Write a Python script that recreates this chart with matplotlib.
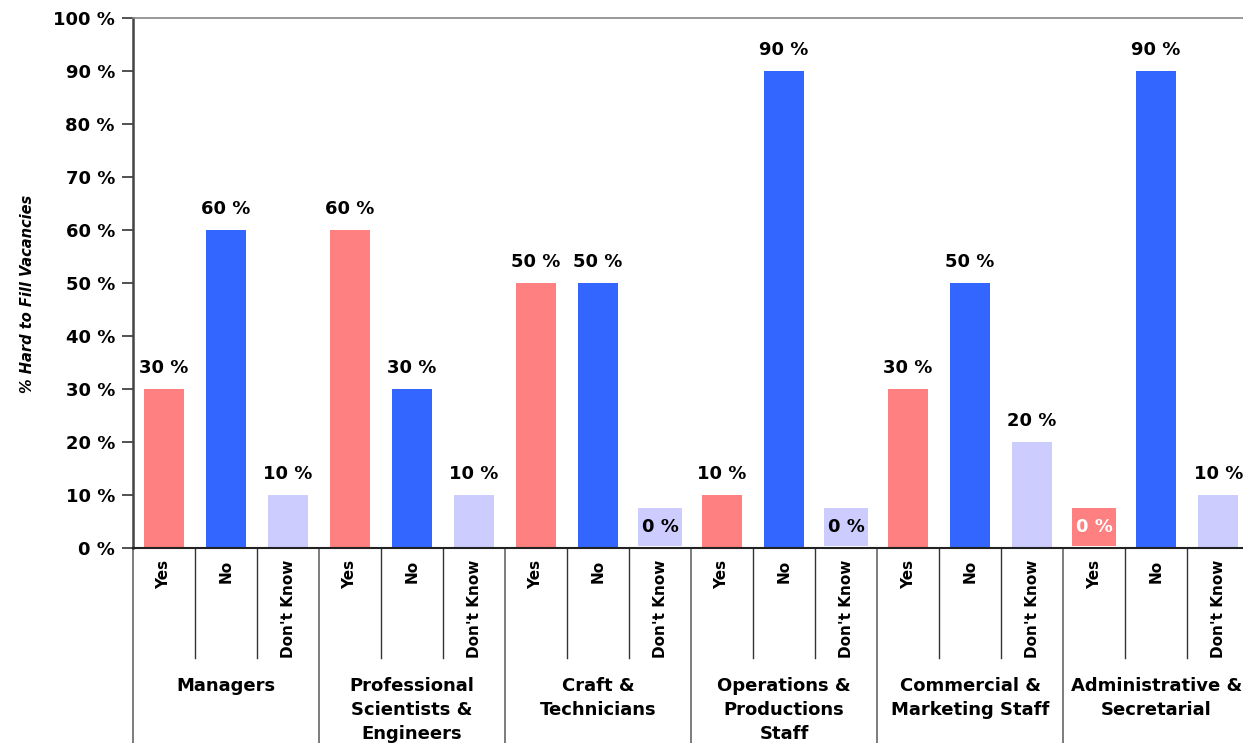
import matplotlib
matplotlib.use("Agg")
import matplotlib.pyplot as plt
from matplotlib.patches import Rectangle
import numpy as np

groups = ["Managers", "Professional\nScientists &\nEngineers", "Craft &\nTechnicians",
          "Operations &\nProductions\nStaff", "Commercial &\nMarketing Staff",
          "Administrative &\nSecretarial"]
answers = ["Yes", "No", "Don't Know"]
yes_vals = [30, 60, 50, 10, 30, 0]
no_vals = [60, 30, 50, 90, 50, 90]
dk_vals = [10, 10, 0, 0, 20, 10]
colors = ["#FF8080", "#3366FF", "#CCCCFF"]
zero_text = ["white", "black", "black"]

plt.rcParams["font.family"] = ["DejaVu Sans"]

fig = plt.figure(figsize=(12.43, 7.43), dpi=100)
ax = fig.add_axes([0.107, 0.2624, 0.893, 0.7134])

series = [yes_vals, no_vals, dk_vals]
n_groups = len(groups)
width = 0.645

for k, vals in enumerate(series):
    xs = np.arange(n_groups) * 3 + k
    ax.bar(xs, vals, width=width, color=colors[k], zorder=2)
    for x, v in zip(xs, vals):
        if v == 0:
            # empty bar: label sits on a small tile in the series colour
            ax.add_patch(Rectangle((x - 0.355, v + 0.4), 0.71, 7.1,
                                   facecolor=colors[k], edgecolor="none", zorder=2))
        ax.text(x, v + 4, f"{v} %", ha="center", va="center", fontsize=13,
                fontweight="bold", color=zero_text[k] if v == 0 else "black", zorder=3)

ax.set_xlim(-0.5, 17.4)
ax.set_ylim(0, 100)
ax.set_yticks(np.arange(0, 101, 10))
ax.set_yticklabels([f"{t} %" for t in range(0, 101, 10)], fontsize=13, fontweight="bold")
ax.set_xticks([])
ax.tick_params(axis="y", length=8, width=1.2, color="#333333", pad=5)

ax.spines["right"].set_visible(False)
ax.spines["top"].set_color("#888888")
ax.spines["top"].set_linewidth(1.2)
ax.spines["left"].set_color("#444444")
ax.spines["left"].set_linewidth(1.8)
ax.spines["bottom"].set_color("#222222")
ax.spines["bottom"].set_linewidth(1.5)

ax.set_ylabel("% Hard to Fill Vacancies", fontsize=10.5, fontweight="bold",
              fontstyle="italic")
ax.yaxis.set_label_coords(-0.088, 0.479)

# category table under the axis
trans = ax.get_xaxis_transform()
for i in range(n_groups * 3):
    ax.text(i, -0.022, answers[i % 3], rotation=90, ha="center", va="top",
            fontsize=11, fontweight="bold", transform=trans)
    if i % 3 != 0:
        ax.plot([i - 0.5, i - 0.5], [0, -0.208], color="#333333", lw=1.0,
                transform=trans, clip_on=False)
for g in range(n_groups):
    ax.plot([3 * g - 0.5, 3 * g - 0.5], [0, -0.4], color="#666666", lw=1.2,
            transform=trans, clip_on=False)
    ax.text(3 * g + 1, -0.243, groups[g], ha="center", va="top", fontsize=13,
            fontweight="bold", linespacing=1.42, transform=trans)

fig.savefig("out.png", dpi=100)
